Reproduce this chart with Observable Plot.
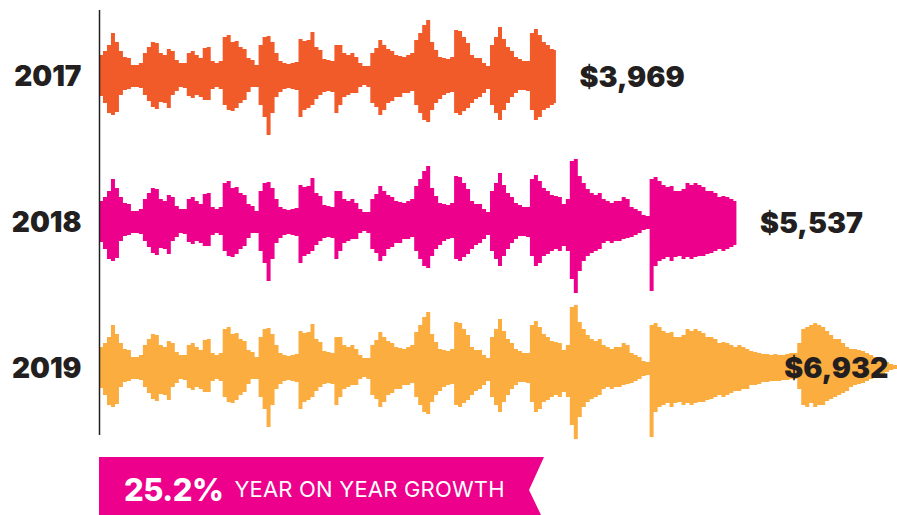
<!DOCTYPE html>
<html>
<head>
<meta charset="utf-8">
<script src="https://cdn.jsdelivr.net/npm/d3@7"></script>
<script src="https://cdn.jsdelivr.net/npm/@observablehq/plot@0.6"></script>
<style>
  html, body { margin: 0; padding: 0; background: #fff; }
  body { width: 897px; height: 515px; position: relative; overflow: hidden; font-family: Inter, "Open Sans", sans-serif; }
  #chart svg { display: block; }
  #banner {
    position: absolute; left: 99px; top: 457px; width: 445px; height: 58px;
    background: #EC008C; color: #fff; box-sizing: border-box;
    clip-path: polygon(0 0, 100% 0, calc(100% - 15px) 57%, calc(100% - 3px) 100%, 0 100%);
    display: flex; align-items: center; padding-left: 25px; padding-top: 6px;
  }
  #banner .big { font-size: 31px; font-weight: 800; letter-spacing: -0.5px; margin-right: 11px; }
  #banner .small { font-size: 22px; font-weight: 400; letter-spacing: 0.2px; }
</style>
</head>
<body>
<div id="chart"></div>
<div id="banner"><span class="big"></span><span class="small"></span></div>
<script>
// ---- data ----
const years = ["2017", "2018", "2019"];
const revenue = [3969, 5537, 6932];
const colors = ["#F15A29", "#EC008C", "#FBAD3F"];
const growthText = "YEAR ON YEAR GROWTH";

// waveform envelope (shared audio-like shape), amplitude above / below the centre line
const waveTop = [
  20, 24, 30, 42, 33, 24, 18, 17, 10, 10,
  12, 22, 28, 33, 32, 22, 20, 26, 24, 15,
  12, 12, 22, 24, 20, 17, 27, 28, 14, 12,
  14, 38, 40, 33, 34, 28, 26, 17, 15, 10,
  30, 38, 39, 33, 22, 14, 12, 11, 12, 13,
  36, 34, 35, 43, 28, 25, 16, 15, 14, 30,
  30, 22, 20, 22, 18, 12, 9, 9, 22, 27,
  35, 30, 26, 24, 20, 19, 18, 20, 22, 35,
  42, 50, 55, 33, 25, 18, 17, 16, 18, 45,
  44, 38, 32, 20, 17, 17, 12, 9, 30, 38,
  48, 36, 28, 24, 18, 16, 14, 14, 42, 46,
  40, 33, 30, 26, 25, 24, 17, 22, 60, 62,
  45, 38, 32, 28, 26, 28, 22, 20, 18, 20,
  20, 24, 22, 14, 12, 10, 6, 5, 42, 44,
  40, 36, 34, 35, 30, 30, 32, 38, 36, 38,
  36, 34, 30, 30, 28, 24, 25, 24, 22, 20,
  22, 20, 18, 16, 15, 14, 13, 13, 12, 13,
  12, 12, 13, 14, 14, 24, 38, 40, 42, 44,
  42, 40, 36, 32, 28, 28, 24, 20, 18, 18,
  17, 16, 14, 12, 10, 9, 7, 5, 3, 2
];
const waveBottom = [
  21, 28, 38, 40, 37, 20, 15, 14, 12, 12,
  13, 20, 26, 32, 34, 27, 28, 33, 20, 16,
  12, 13, 21, 23, 20, 22, 25, 25, 14, 12,
  14, 30, 35, 36, 33, 28, 25, 17, 12, 12,
  30, 42, 60, 38, 22, 17, 14, 13, 14, 15,
  42, 35, 33, 30, 24, 20, 17, 16, 17, 38,
  30, 22, 20, 18, 18, 12, 10, 12, 28, 32,
  40, 35, 28, 26, 22, 22, 18, 18, 16, 30,
  38, 45, 47, 35, 28, 24, 20, 18, 17, 38,
  40, 36, 33, 28, 24, 22, 18, 14, 30, 38,
  45, 35, 28, 22, 18, 15, 15, 16, 35, 45,
  42, 35, 33, 30, 28, 30, 25, 30, 58, 72,
  50, 40, 35, 32, 30, 28, 22, 20, 22, 20,
  20, 18, 17, 16, 14, 12, 9, 8, 70, 45,
  40, 38, 36, 40, 36, 35, 38, 36, 38, 36,
  35, 35, 33, 32, 30, 28, 30, 28, 26, 24,
  24, 22, 22, 18, 18, 17, 15, 15, 14, 14,
  14, 13, 13, 12, 12, 22, 38, 40, 36, 40,
  38, 38, 34, 32, 30, 28, 26, 24, 20, 18,
  17, 16, 14, 12, 10, 9, 7, 5, 3, 2
];

// ---- build rows: the waveform runs from 0 to each year's revenue ----
const maxRev = d3.max(revenue);
const step = maxRev / waveTop.length;
const rows = [];
years.forEach((year, j) => {
  let last = null;
  for (let i = 0; i < waveTop.length && i * step < revenue[j]; i++) {
    last = { year, x: i * step, top: waveTop[i], bottom: waveBottom[i] };
    rows.push(last);
  }
  rows.push({ year, x: revenue[j], top: last.top, bottom: last.bottom });
});
const labels = years.map((year, j) => ({ year, value: revenue[j], text: "$" + d3.format(",")(revenue[j]) }));

const ink = "#231F20";
const font = "Inter, 'Open Sans', sans-serif";

const chart = Plot.plot({
  width: 897,
  height: 450,
  marginLeft: 99,
  marginRight: 0,
  marginTop: 2,
  marginBottom: 10,
  style: { fontFamily: font, background: "#fff" },
  x: { domain: [0, maxRev], axis: null },
  y: { domain: [-73, 73], axis: null },
  fy: { domain: years, padding: 0, axis: null },
  color: { domain: years, range: colors },
  marks: [
    Plot.areaY(rows, {
      x: "x", y1: d => -d.bottom, y2: d => d.top,
      fy: "year", fill: "year", curve: "step-after"
    }),
    Plot.ruleX(years, {
      x: 0, fy: d => d,
      y1: d => d === years[years.length - 1] ? -68 : -73,
      y2: d => d === years[0] ? 65 : 73,
      stroke: ink, strokeWidth: 1.5
    }),
    Plot.text(years, {
      fy: d => d, x: 0, y: 0, text: d => d, textAnchor: "end", dx: -18, dy: 2,
      fontSize: 28, fontWeight: 900, fontFamily: font, fill: ink
    }),
    Plot.text(labels.filter(d => d.value < maxRev), {
      fy: "year", x: "value", y: 0, text: "text", textAnchor: "start", dx: 23, dy: 2,
      fontSize: 28.5, fontWeight: 900, fontFamily: font, fill: ink
    }),
    Plot.text(labels.filter(d => d.value === maxRev), {
      fy: "year", x: "value", y: 0, text: "text", textAnchor: "end", dx: -9, dy: 1,
      fontSize: 28.5, fontWeight: 900, fontFamily: font, fill: ink
    })
  ]
});
document.getElementById("chart").appendChild(chart);

document.querySelector("#banner .big").textContent = d3.format(".1%")(revenue[2] / revenue[1] - 1);
document.querySelector("#banner .small").textContent = growthText;
</script>
</body>
</html>
